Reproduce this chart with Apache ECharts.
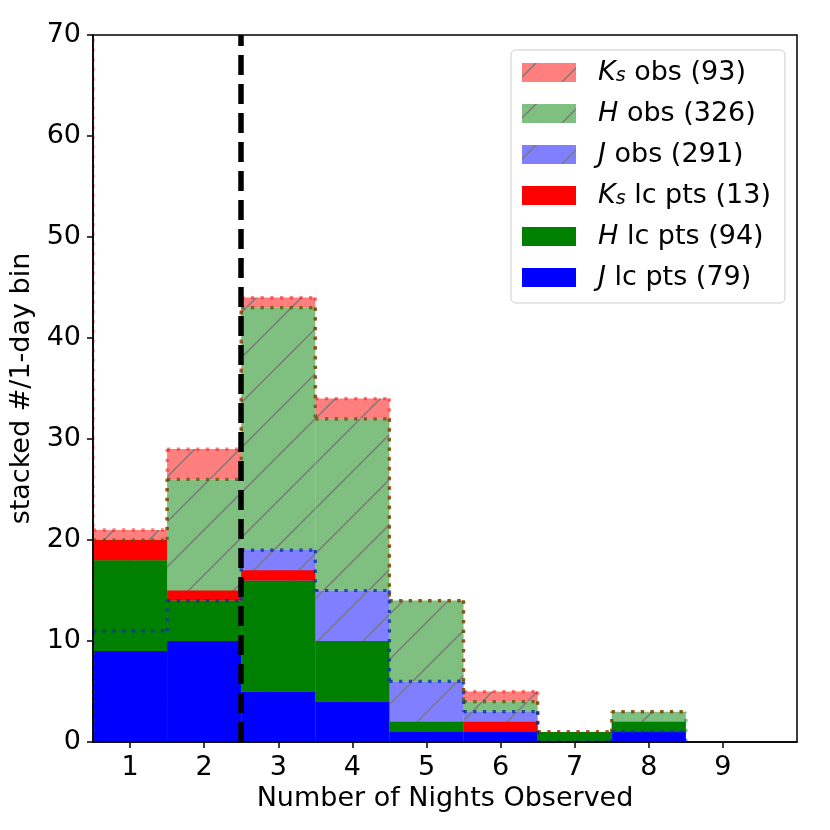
<!DOCTYPE html>
<html><head><meta charset="utf-8">
<script src="https://cdn.jsdelivr.net/npm/echarts@6/dist/echarts.min.js"></script>
<style>html,body{margin:0;padding:0;background:#fff}#c{width:830px;height:830px}</style>
</head><body><div id="c"></div><script>
// ---- data ----
const nights = [0, 1, 2, 3, 4, 5, 6, 7, 8];
const jObs  = [0, 11, 14, 19, 15, 6, 3, 0, 1];
const hObs  = [0, 9, 12, 24, 17, 8, 1, 1, 2];
const ksObs = [85, 1, 3, 1, 2, 0, 1, 0, 0];
const jLc   = [0, 9, 10, 5, 4, 1, 1, 0, 1];
const hLc   = [0, 9, 4, 11, 6, 1, 0, 1, 1];
const ksLc  = [0, 2, 1, 1, 0, 0, 1, 0, 0];
const obsCounts = { Ks: 93, H: 326, J: 291 };
const lcCounts  = { Ks: 13, H: 94, J: 79 };
const xTickValues = [1, 2, 3, 4, 5, 6, 7, 8, 9];
const yTickValues = [0, 10, 20, 30, 40, 50, 60, 70];
const cutoffNights = 2.5;
const binWidth = 1;

// ---- helpers ----
function stack(layers) {
  const base = nights.map(() => 0);
  return layers.map(vals => {
    const b = base.slice();
    const t = vals.map((v, i) => b[i] + v);
    t.forEach((v, i) => base[i] = v);
    return { b, t };
  });
}
const obsStack = stack([jObs, hObs, ksObs]);
const lcStack  = stack([jLc, hLc, ksLc]);

function hatch(rgba, phase) {
  const s = 45;
  const cv = document.createElement('canvas');
  cv.width = s; cv.height = s;
  const ctx = cv.getContext('2d');
  ctx.fillStyle = rgba; ctx.fillRect(0, 0, s, s);
  ctx.strokeStyle = '#7a7a7a'; ctx.lineWidth = 1.5;
  for (let k = -1; k <= 2; k++) {
    const c = phase + k * s;
    ctx.beginPath(); ctx.moveTo(c + s, -s); ctx.lineTo(c - 2 * s, 2 * s); ctx.stroke();
  }
  return { image: cv, repeat: 'repeat' };
}
const PH = 14;
const fillKsObs = hatch('rgba(255,0,0,0.5)', PH);
const fillHObs  = hatch('rgba(0,128,0,0.5)', PH);
const fillJObs  = hatch('rgba(0,0,255,0.5)', PH);

const bandRich = { Ks: '{i|K}{s|s}', H: '{i|H}', J: '{i|J}' };
const nm = {
  KsObs: 'Ks obs (' + obsCounts.Ks + ')', HObs: 'H obs (' + obsCounts.H + ')', JObs: 'J obs (' + obsCounts.J + ')',
  KsLc: 'Ks lc pts (' + lcCounts.Ks + ')', HLc: 'H lc pts (' + lcCounts.H + ')', JLc: 'J lc pts (' + lcCounts.J + ')'
};
const richMap = {};
richMap[nm.KsObs] = bandRich.Ks + '{n| obs (' + obsCounts.Ks + ')}';
richMap[nm.HObs]  = bandRich.H  + '{n| obs (' + obsCounts.H + ')}';
richMap[nm.JObs]  = bandRich.J  + '{n| obs (' + obsCounts.J + ')}';
richMap[nm.KsLc]  = bandRich.Ks + '{n| lc pts (' + lcCounts.Ks + ')}';
richMap[nm.HLc]   = bandRich.H  + '{n| lc pts (' + lcCounts.H + ')}';
richMap[nm.JLc]   = bandRich.J  + '{n| lc pts (' + lcCounts.J + ')}';

function fillSeries(name, layer, fill, z) {
  return {
    type: 'custom', name, z, clip: true,
    itemStyle: { color: fill },
    encode: { x: 0, y: [1, 2] },
    data: nights.map((n, i) => [n, layer.b[i], layer.t[i]]),
    renderItem: (params, api) => {
      const x = api.value(0), y0 = api.value(1), y1 = api.value(2);
      if (y1 <= y0) return { type: 'group', children: [] };
      const a = api.coord([x - binWidth / 2, y0]);
      const b = api.coord([x + binWidth / 2, y1]);
      return { type: 'rect', shape: { x: a[0], y: b[1], width: b[0] - a[0], height: a[1] - b[1] }, style: { fill } };
    }
  };
}
function edgeSeries(layer, stroke, z) {
  const n = nights.length;
  return {
    type: 'custom', z, clip: true, silent: true,
    encode: { x: 0, y: [1, 2] },
    data: nights.map((x, i) => [x, layer.b[i], layer.t[i]]),
    renderItem: (params, api) => {
      const i = params.dataIndex;
      const x = api.value(0);
      const xl = x - binWidth / 2, xr = x + binWidth / 2;
      const B = layer.b, T = layer.t;
      const segs = [[[xl, T[i]], [xr, T[i]]], [[xl, B[i]], [xr, B[i]]]];
      if (i > 0) {
        if (T[i - 1] !== T[i]) segs.push([[xl, T[i - 1]], [xl, T[i]]]);
        if (B[i - 1] !== B[i]) segs.push([[xl, B[i - 1]], [xl, B[i]]]);
      } else if (B[i] !== T[i]) segs.push([[xl, B[i]], [xl, T[i]]]);
      if (i === n - 1 && B[i] !== T[i]) segs.push([[xr, B[i]], [xr, T[i]]]);
      return {
        type: 'group',
        children: segs.map(s => ({
          type: 'polyline',
          shape: { points: s.map(p => api.coord(p)) },
          style: { stroke, fill: 'none', lineWidth: 3.2, lineDash: [3.2, 6.5] }
        }))
      };
    }
  };
}

const FONT = 'DejaVu Sans';
const FS = 27;
const chart = echarts.init(document.getElementById('c'), null, { renderer: 'canvas' });
chart.setOption({
  animation: false,
  backgroundColor: '#fff',
  grid: { left: 93, right: 33, top: 35, bottom: 88, show: true, borderColor: '#000', borderWidth: 1.5, backgroundColor: 'transparent', z: 0 },
  xAxis: {
    type: 'value', min: 0.5, max: 10, z: 10,
    name: 'Number of Nights Observed', nameLocation: 'middle', nameGap: 43,
    nameTextStyle: { fontFamily: FONT, fontSize: FS, color: '#000' },
    axisLine: { onZero: false, lineStyle: { color: '#000', width: 1.5 } },
    axisTick: { show: true, length: 6, customValues: xTickValues, lineStyle: { color: '#000', width: 1.5 } },
    axisLabel: { customValues: xTickValues, fontFamily: FONT, fontSize: FS, color: '#000', margin: 12 },
    splitLine: { show: false }
  },
  yAxis: {
    type: 'value', min: 0, max: 70, interval: 10, z: 10,
    name: 'stacked #/1-day bin', nameLocation: 'middle', nameGap: 49,
    nameTextStyle: { fontFamily: FONT, fontSize: FS, color: '#000' },
    axisLine: { show: true, lineStyle: { color: '#000', width: 1.5 } },
    axisTick: { show: true, length: 6, customValues: yTickValues, lineStyle: { color: '#000', width: 1.5 } },
    axisLabel: { customValues: yTickValues, fontFamily: FONT, fontSize: FS, color: '#000', margin: 12 },
    splitLine: { show: false }
  },
  legend: {
    left: 511, top: 50, orient: 'vertical', selectedMode: false, z: 20,
    backgroundColor: 'rgba(255,255,255,0.8)', borderColor: '#cccccc', borderWidth: 1, borderRadius: 5,
    padding: [9, 14, 12, 11],
    itemWidth: 54, itemHeight: 19, itemGap: 14,
    icon: 'rect',
    formatter: name => richMap[name],
    textStyle: {
      padding: [0, 0, 0, 17],
      lineHeight: 26,
      rich: {
        i: { fontFamily: FONT, fontStyle: 'italic', fontSize: FS, lineHeight: 26, color: '#000' },
        s: { fontFamily: FONT, fontStyle: 'italic', fontSize: 19, lineHeight: 14, verticalAlign: 'bottom', color: '#000' },
        n: { fontFamily: FONT, fontSize: FS, lineHeight: 26, color: '#000' }
      }
    },
    data: [
      { name: nm.KsObs, itemStyle: { color: fillKsObs } },
      { name: nm.HObs, itemStyle: { color: fillHObs } },
      { name: nm.JObs, itemStyle: { color: fillJObs } },
      { name: nm.KsLc, itemStyle: { color: '#ff0000' } },
      { name: nm.HLc, itemStyle: { color: '#008000' } },
      { name: nm.JLc, itemStyle: { color: '#0000ff' } }
    ]
  },
  series: [
    fillSeries(nm.JObs, obsStack[0], fillJObs, 2),
    fillSeries(nm.HObs, obsStack[1], fillHObs, 2),
    fillSeries(nm.KsObs, obsStack[2], fillKsObs, 2),
    fillSeries(nm.JLc, lcStack[0], '#0000ff', 3),
    fillSeries(nm.HLc, lcStack[1], '#008000', 3),
    fillSeries(nm.KsLc, lcStack[2], '#ff0000', 3),
    // outlines drawn top layer first so lower layers sit on top (as in the reference)
    edgeSeries(obsStack[2], 'rgba(255,0,0,0.5)', 4),
    edgeSeries(obsStack[1], 'rgba(0,128,0,0.5)', 4),
    edgeSeries(obsStack[0], 'rgba(0,0,255,0.5)', 4),
    {
      type: 'line', z: 5, data: [], silent: true,
      markLine: {
        silent: true, symbol: 'none', animation: false,
        label: { show: false },
        lineStyle: { color: '#000', width: 5.5, type: [20, 9] },
        data: [{ xAxis: cutoffNights }]
      }
    }
  ]
});
</script></body></html>
